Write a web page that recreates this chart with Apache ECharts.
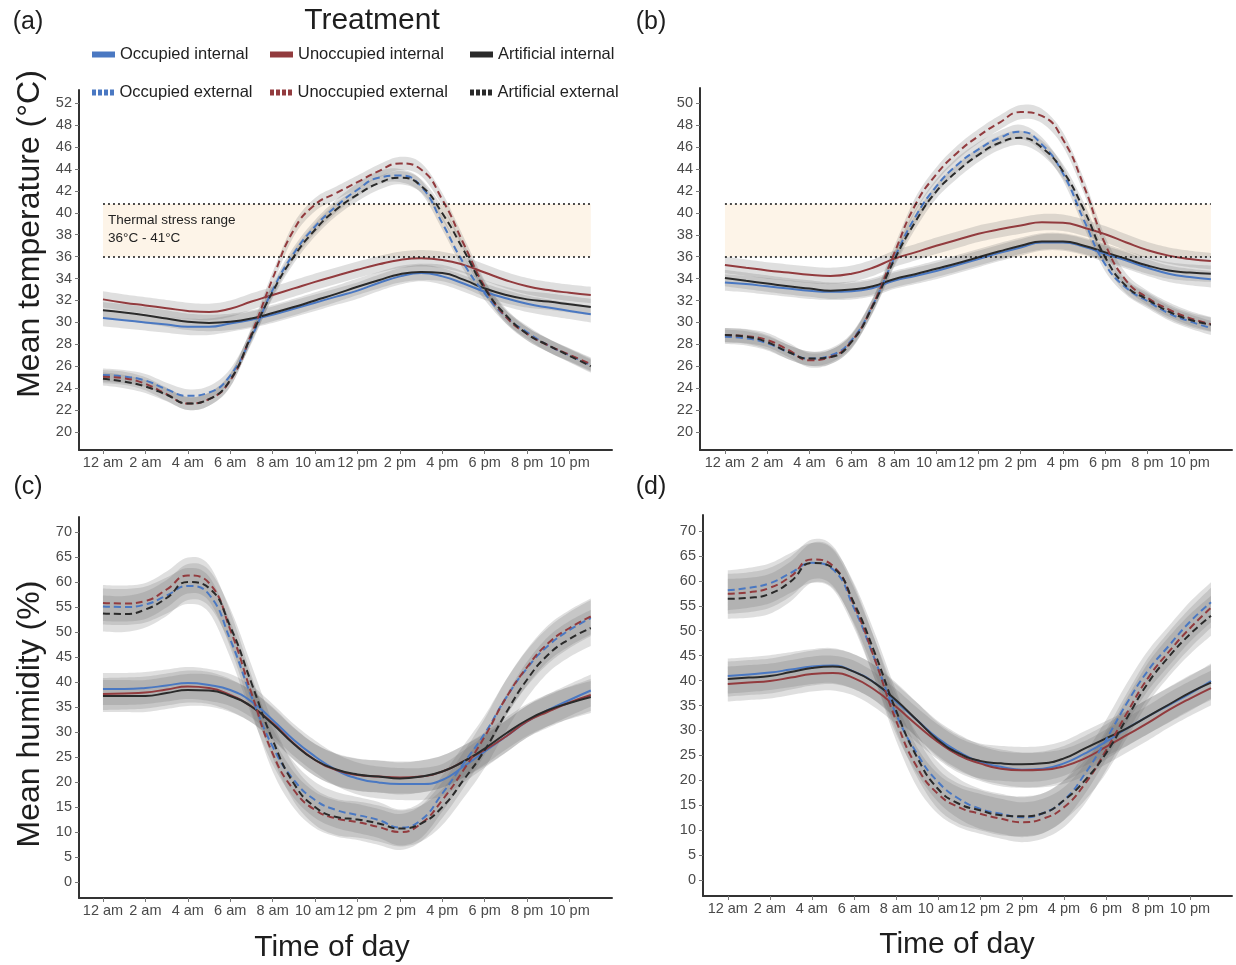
<!DOCTYPE html>
<html>
<head>
<meta charset="utf-8">
<script src="https://cdn.jsdelivr.net/npm/echarts@6/dist/echarts.min.js"></script>
<style>
html, body { margin: 0; padding: 0; background: #fff; }
#chart { width: 1236px; height: 965px; }
</style>
</head>
<body>
<div id="chart"></div>
<script>
// hours of the day (0 = 12 am)
var hours = [0, 1, 2, 3, 4, 5, 6, 7, 8, 9, 10, 11, 12, 13, 14, 15, 16, 17, 18, 19, 20, 21, 22, 23];
var hourTicks = [0, 2, 4, 6, 8, 10, 12, 14, 16, 18, 20, 22];
var hourLabels = ['12 am', '2 am', '4 am', '6 am', '8 am', '10 am', '12 pm', '2 pm', '4 pm', '6 pm', '8 pm', '10 pm'];

var tempTicks = [20, 22, 24, 26, 28, 30, 32, 34, 36, 38, 40, 42, 44, 46, 48, 50];
var tempLabelsA = ['20', '22', '24', '26', '28', '30', '32', '34', '36', '38', '40', '42', '44', '46', '48', '52'];
var tempLabelsB = ['20', '22', '24', '26', '28', '30', '32', '34', '36', '38', '40', '42', '44', '46', '48', '50'];
var humTicks = [0, 5, 10, 15, 20, 25, 30, 35, 40, 45, 50, 55, 60, 65, 70];
var humLabels = ['0', '5', '10', '15', '20', '25', '30', '35', '40', '45', '50', '55', '60', '65', '70'];

var seriesNames = ['Occupied internal', 'Unoccupied internal', 'Artificial internal',
                   'Occupied external', 'Unoccupied external', 'Artificial external'];

// thermal stress range (°C)
var thermalRange = [36, 40.8];
var thermalNote = 'Thermal stress range\n36°C - 41°C';

// (a) mean temperature
var aOccInt = [30.4, 30.2, 30.0, 29.8, 29.6, 29.6, 29.9, 30.25, 30.7, 31.25, 31.8, 32.35, 32.9, 33.6, 34.2, 34.5, 34.2, 33.55, 32.8, 32.2, 31.7, 31.35, 31.05, 30.75];
var aUnoInt = [32.1, 31.8, 31.55, 31.3, 31.05, 30.95, 31.25, 31.9, 32.5, 33.1, 33.7, 34.25, 34.8, 35.3, 35.7, 35.85, 35.7, 35.25, 34.55, 33.85, 33.3, 32.95, 32.7, 32.5];
var aArtInt = [31.1, 30.9, 30.65, 30.35, 30.05, 29.95, 30.05, 30.35, 30.85, 31.4, 32.0, 32.6, 33.25, 33.85, 34.4, 34.6, 34.5, 33.9, 33.1, 32.5, 32.1, 31.9, 31.65, 31.4];
var aOccExt = [25.2, 25.05, 24.7, 23.9, 23.3, 23.6, 25.15, 28.65, 32.95, 36.3, 38.75, 40.6, 42.1, 43.2, 43.4, 42.4, 39.05, 35.4, 32.65, 30.5, 29.1, 27.9, 27.0, 26.1];
var aUnoExt = [25.05, 24.9, 24.4, 23.45, 22.6, 23.0, 24.7, 28.95, 34.0, 38.45, 40.75, 41.8, 42.8, 43.8, 44.5, 43.95, 41.2, 37.2, 33.25, 30.5, 28.95, 27.9, 27.05, 26.2];
var aArtExt = [24.85, 24.6, 24.15, 23.4, 22.6, 23.0, 24.75, 28.8, 32.8, 36.0, 38.45, 40.3, 41.65, 42.7, 43.2, 42.45, 39.95, 36.6, 33.1, 30.65, 28.95, 27.9, 26.95, 26.0];
var aCI = [0.75, 0.75, 0.75, 0.6, 0.6, 0.6];

// (b) mean temperature
var bOccInt = [33.65, 33.5, 33.3, 33.1, 32.9, 32.8, 32.85, 33.15, 33.8, 34.25, 34.7, 35.25, 35.8, 36.35, 36.85, 37.3, 37.3, 36.9, 36.25, 35.65, 35.0, 34.45, 34.15, 33.95];
var bUnoInt = [35.25, 35.0, 34.75, 34.55, 34.35, 34.25, 34.45, 35.0, 35.8, 36.4, 37.0, 37.55, 38.1, 38.5, 38.85, 39.15, 39.1, 38.65, 38.05, 37.3, 36.6, 36.1, 35.8, 35.6];
var bArtInt = [34.05, 33.8, 33.55, 33.3, 33.1, 32.9, 33.0, 33.3, 33.95, 34.4, 34.9, 35.4, 35.95, 36.5, 37.0, 37.4, 37.4, 37.0, 36.4, 35.8, 35.2, 34.75, 34.55, 34.45];
var bOccExt = [28.7, 28.55, 28.1, 27.3, 26.7, 27.0, 28.4, 31.6, 35.8, 39.6, 42.4, 44.4, 45.8, 46.85, 47.4, 46.25, 43.6, 39.3, 35.3, 33.15, 31.95, 30.85, 30.1, 29.5];
var bUnoExt = [28.85, 28.75, 28.4, 27.5, 26.55, 26.85, 28.3, 31.6, 36.25, 40.7, 43.5, 45.5, 47.0, 48.25, 49.2, 48.85, 46.7, 42.4, 37.15, 33.8, 32.25, 31.2, 30.4, 29.85];
var bArtExt = [28.85, 28.7, 28.2, 27.3, 26.7, 26.85, 28.25, 31.5, 35.65, 39.15, 41.95, 43.8, 45.3, 46.4, 46.85, 45.95, 43.8, 40.25, 35.95, 33.3, 32.1, 31.0, 30.25, 29.8];
var bCI = [0.75, 0.75, 0.75, 0.65, 0.65, 0.65];

// (c) mean humidity
var cOccInt = [38.6, 38.6, 38.8, 39.3, 39.8, 39.4, 38.4, 36.1, 32.4, 28.4, 25.1, 22.4, 20.7, 19.9, 19.6, 19.6, 20.4, 23.1, 26.1, 29.1, 32.1, 34.4, 36.4, 38.3];
var cUnoInt = [37.6, 37.7, 37.9, 38.5, 39.1, 38.8, 37.4, 35.1, 31.8, 27.7, 24.4, 22.4, 21.4, 21.1, 20.9, 21.1, 22.1, 24.1, 26.4, 29.1, 32.1, 34.1, 35.9, 37.4];
var cArtInt = [37.2, 37.2, 37.2, 37.8, 38.4, 38.3, 37.2, 35.1, 31.6, 27.6, 24.4, 22.5, 21.5, 21.1, 20.7, 21.1, 22.1, 24.1, 26.7, 29.7, 32.4, 34.4, 35.8, 37.0];
var cOccExt = [55.1, 55.0, 55.5, 57.3, 59.2, 57.5, 48.5, 37.1, 27.1, 20.4, 16.4, 14.4, 13.4, 12.4, 10.9, 12.4, 17.7, 23.7, 29.7, 36.8, 42.8, 47.3, 50.4, 52.8];
var cUnoExt = [55.8, 55.7, 56.2, 58.5, 61.3, 59.8, 50.5, 37.8, 25.7, 18.4, 14.4, 12.7, 12.0, 11.0, 10.0, 11.7, 16.4, 22.4, 29.1, 36.8, 43.0, 47.8, 50.8, 53.1];
var cArtExt = [53.7, 53.6, 54.5, 56.8, 60.0, 58.8, 51.1, 39.8, 28.4, 19.7, 15.0, 13.0, 12.5, 11.7, 10.7, 11.7, 15.0, 20.4, 26.4, 33.8, 40.5, 45.5, 48.6, 50.8];
var cCI = [3.2, 3.2, 3.2, 3.6, 3.6, 3.6];

// (d) mean humidity
var dOccInt = [40.9, 41.2, 41.6, 42.2, 42.8, 43.0, 41.8, 39.5, 35.8, 32.1, 28.4, 25.7, 23.7, 22.7, 22.1, 22.3, 23.4, 25.4, 27.7, 30.4, 32.8, 35.1, 37.4, 39.9];
var dUnoInt = [39.3, 39.6, 39.9, 40.6, 41.3, 41.5, 40.5, 38.1, 34.8, 31.1, 27.7, 25.0, 23.4, 22.3, 22.0, 22.1, 22.8, 24.4, 26.7, 29.1, 31.5, 34.1, 36.4, 38.5];
var dArtInt = [40.3, 40.6, 40.9, 41.7, 42.5, 42.8, 41.8, 39.5, 36.1, 32.1, 28.1, 25.4, 23.9, 23.4, 23.2, 23.4, 24.4, 26.4, 28.4, 30.4, 32.8, 35.2, 37.6, 39.6];
var dOccExt = [58.1, 58.6, 59.5, 61.6, 63.6, 62.3, 54.6, 44.2, 33.4, 25.4, 19.7, 16.3, 14.3, 13.3, 12.6, 13.4, 16.0, 21.3, 28.1, 35.5, 42.0, 47.0, 51.8, 55.7];
var dUnoExt = [57.4, 57.7, 58.6, 60.9, 64.3, 63.0, 55.2, 44.2, 32.1, 22.7, 17.3, 14.6, 13.3, 12.3, 11.6, 12.3, 14.6, 19.3, 26.0, 33.5, 40.5, 45.8, 50.5, 54.6];
var dArtExt = [56.4, 56.6, 57.4, 59.9, 63.6, 62.6, 55.6, 45.5, 34.1, 24.7, 18.3, 15.3, 14.0, 13.0, 12.8, 13.4, 16.0, 20.0, 25.4, 32.5, 39.5, 44.8, 49.3, 53.0];
var dCI = [3.5, 3.5, 3.5, 4.0, 4.0, 4.0];

// colours and layout
var lineColors = ['#4a78c2', '#923b3e', '#2a2a2a', '#4a78c2', '#923b3e', '#2a2a2a'];
var bandColor = 'rgba(110,110,110,0.22)';
var font = 'Liberation Sans, Arial, Helvetica, sans-serif';

var panels = [
    { grid: { left: 79, top: 90, width: 533, height: 360 }, xr: [-1.13, 24], yr: [18.36, 51.2],
      yTicks: tempTicks, yLabels: tempLabelsA, lines: [aOccInt, aUnoInt, aArtInt, aOccExt, aUnoExt, aArtExt], ci: aCI, thermal: true, note: true },
    { grid: { left: 700, top: 88, width: 532, height: 362 }, xr: [-1.18, 24], yr: [18.36, 51.4],
      yTicks: tempTicks, yLabels: tempLabelsB, lines: [bOccInt, bUnoInt, bArtInt, bOccExt, bUnoExt, bArtExt], ci: bCI, thermal: true, note: false },
    { grid: { left: 79, top: 517, width: 533, height: 381 }, xr: [-1.13, 24], yr: [-3.2, 73.0],
      yTicks: humTicks, yLabels: humLabels, lines: [cOccInt, cUnoInt, cArtInt, cOccExt, cUnoExt, cArtExt], ci: cCI, thermal: false },
    { grid: { left: 703, top: 515, width: 529, height: 381 }, xr: [-1.18, 24], yr: [-3.2, 73.2],
      yTicks: humTicks, yLabels: humLabels, lines: [dOccInt, dUnoInt, dArtInt, dOccExt, dUnoExt, dArtExt], ci: dCI, thermal: false }
];

function pairs(vals) {
    return hours.map(function (h, j) { return [h, vals[j]]; });
}

// Catmull-Rom through the pixel points so ribbons bend like the lines
function curve(pts) {
    var out = [], steps = 8, n = pts.length;
    for (var i = 0; i < n - 1; i++) {
        var p0 = pts[Math.max(i - 1, 0)], p1 = pts[i], p2 = pts[i + 1], p3 = pts[Math.min(i + 2, n - 1)];
        for (var s = 0; s < steps; s++) {
            var t = s / steps, t2 = t * t, t3 = t2 * t;
            out.push([0, 1].map(function (d) {
                return 0.5 * ((2 * p1[d]) + (-p0[d] + p2[d]) * t +
                    (2 * p0[d] - 5 * p1[d] + 4 * p2[d] - p3[d]) * t2 +
                    (-p0[d] + 3 * p1[d] - 3 * p2[d] + p3[d]) * t3);
            }));
        }
    }
    out.push(pts[n - 1]);
    return out;
}

function ribbon(vals, ci) {
    return function (params, api) {
        var up = hours.map(function (h, j) { return api.coord([h, vals[j] + ci]); });
        var lo = hours.map(function (h, j) { return api.coord([h, vals[j] - ci]); });
        var pts = curve(up).concat(curve(lo).reverse());
        return { type: 'polygon', shape: { points: pts }, style: { fill: bandColor } };
    };
}

var grids = [], xAxes = [], yAxes = [], series = [];

panels.forEach(function (p, i) {
    grids.push({ left: p.grid.left, top: p.grid.top, width: p.grid.width, height: p.grid.height,
                 containLabel: false, outerBoundsMode: 'none' });
    xAxes.push({
        type: 'value', gridIndex: i, min: p.xr[0], max: p.xr[1],
        splitLine: { show: false },
        axisLine: { onZero: false, lineStyle: { color: '#333', width: 2 } },
        axisTick: { customValues: hourTicks, length: 4, lineStyle: { color: '#777' } },
        axisLabel: {
            customValues: hourTicks, margin: 5, fontSize: 14.5, color: '#4a4a4a', fontFamily: font,
            formatter: function (v) { return hourLabels[hourTicks.indexOf(Math.round(v))] || ''; }
        }
    });
    yAxes.push({
        type: 'value', gridIndex: i, min: p.yr[0], max: p.yr[1],
        splitLine: { show: false },
        axisLine: { onZero: false, lineStyle: { color: '#333', width: 2 } },
        axisTick: { customValues: p.yTicks, length: 4, lineStyle: { color: '#777' } },
        axisLabel: {
            customValues: p.yTicks, margin: 7, fontSize: 14.5, color: '#4a4a4a', fontFamily: font,
            formatter: function (v) { return p.yLabels[p.yTicks.indexOf(Math.round(v))] || ''; }
        }
    });

    if (p.thermal) {
        series.push({
            type: 'line', xAxisIndex: i, yAxisIndex: i, data: [[0, thermalRange[0]]],
            symbol: 'none', lineStyle: { opacity: 0 }, silent: true, z: 0,
            markArea: {
                silent: true,
                itemStyle: { color: '#fdf4e8' },
                label: {
                    show: !!p.note, position: 'insideTopLeft', distance: 5, padding: [2, 0, 0, 0],
                    formatter: thermalNote, fontSize: 13.5, lineHeight: 18, color: '#222', fontFamily: font
                },
                data: [[{ coord: [0, thermalRange[0]] }, { coord: [23, thermalRange[1]] }]]
            },
            markLine: {
                silent: true, symbol: ['none', 'none'],
                label: { show: false },
                lineStyle: { type: [2, 3], color: '#111', width: 1.6 },
                data: [
                    [{ coord: [0, thermalRange[0]] }, { coord: [23, thermalRange[0]] }],
                    [{ coord: [0, thermalRange[1]] }, { coord: [23, thermalRange[1]] }]
                ]
            }
        });
    }

    // confidence ribbons
    p.lines.forEach(function (vals, k) {
        series.push({
            type: 'custom', xAxisIndex: i, yAxisIndex: i, data: [[0, vals[0]]],
            renderItem: ribbon(vals, p.ci[k]), clip: true, silent: true, z: 1
        });
    });

    // fitted lines
    p.lines.forEach(function (vals, k) {
        series.push({
            name: seriesNames[k], type: 'line', xAxisIndex: i, yAxisIndex: i, data: pairs(vals),
            smooth: 0.5, symbol: 'none', color: lineColors[k],
            itemStyle: { color: lineColors[k] },
            lineStyle: { color: lineColors[k], width: 2, type: k >= 3 ? [7, 4] : 'solid' },
            z: 3
        });
    });
});

var dottedIcon = 'path://M0 0h4v6h-4zM6 0h4v6h-4zM12 0h4v6h-4zM18 0h4v6h-4z';
var legendPos = [[92, 46], [270, 46], [470, 46], [92, 84], [270, 84], [470, 84]];
var legends = seriesNames.map(function (name, k) {
    return {
        left: legendPos[k][0], top: legendPos[k][1], padding: 0,
        itemWidth: 23, itemHeight: 6, itemGap: 0, selectedMode: false,
        itemStyle: { borderWidth: 0 },
        textStyle: { fontSize: 16.5, color: '#222', fontFamily: font },
        data: [{ name: name, icon: k >= 3 ? dottedIcon : 'rect' }]
    };
});

var texts = [
    { text: 'Treatment', x: 372, y: 21, size: 30, rot: 0 },
    { text: '(a)', x: 28, y: 22, size: 25, rot: 0 },
    { text: '(b)', x: 651, y: 22, size: 25, rot: 0 },
    { text: '(c)', x: 28, y: 487, size: 25, rot: 0 },
    { text: '(d)', x: 651, y: 487, size: 25, rot: 0 },
    { text: 'Mean temperature (°C)', x: 30, y: 234, size: 32, rot: Math.PI / 2 },
    { text: 'Mean humidity (%)', x: 30, y: 714, size: 32, rot: Math.PI / 2 },
    { text: 'Time of day', x: 332, y: 948, size: 30, rot: 0 },
    { text: 'Time of day', x: 957, y: 945, size: 30, rot: 0 }
];

var graphics = texts.map(function (t) {
    return {
        type: 'text', x: t.x, y: t.y, rotation: t.rot, silent: true,
        style: { text: t.text, fontSize: t.size, fontFamily: font, fill: '#1e1e1e', align: 'center', verticalAlign: 'middle' }
    };
});

var chart = echarts.init(document.getElementById('chart'), null, { renderer: 'canvas' });
chart.setOption({
    animation: false,
    backgroundColor: '#fff',
    textStyle: { fontFamily: font },
    grid: grids,
    xAxis: xAxes,
    yAxis: yAxes,
    legend: legends,
    graphic: graphics,
    series: series
});
</script>
</body>
</html>
